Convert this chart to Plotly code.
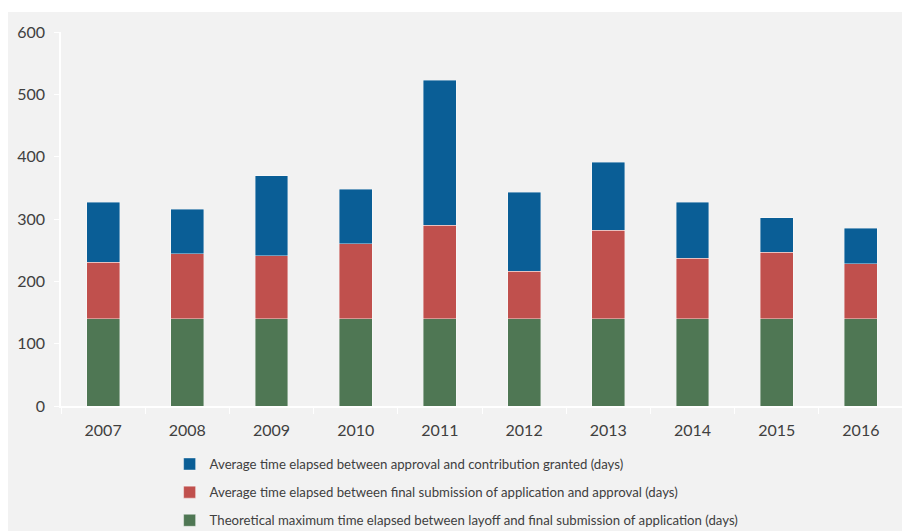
import plotly.graph_objects as go

years = ["2007", "2008", "2009", "2010", "2011", "2012", "2013", "2014", "2015", "2016"]
theoretical_max = [140, 140, 140, 140, 140, 140, 140, 140, 140, 140]
submission_to_approval = [91, 104, 101, 120, 150, 76, 142, 97, 107, 88]
approval_to_granted = [96, 72, 128, 88, 233, 127, 109, 90, 55, 57]

names = [
    "Theoretical maximum time elapsed between layoff and final submission of application (days)",
    "Average time elapsed between final submission of application and approval (days)",
    "Average time elapsed between approval and contribution granted (days)",
]
colors = ["#4F7754", "#C0504D", "#0A5E96"]
series = [theoretical_max, submission_to_approval, approval_to_granted]
ranks = [3, 2, 1]

FONT = "Lato, 'Open Sans', sans-serif"

fig = go.Figure()
for i, (nm, col, vals, rk) in enumerate(zip(names, colors, series, ranks)):
    fig.add_trace(go.Bar(
        x=years, y=vals, name=nm, legendgroup=f"g{i}", legendrank=rk,
        marker=dict(color=col, line=dict(color="rgba(255,255,255,0.5)", width=0.8)),
    ))

# page body has an 8px margin, so the figure is sized/positioned to compensate
fig.update_layout(
    barmode="stack",
    bargap=0.61,
    width=902, height=523,
    margin=dict(l=53, r=7, t=24, b=125),
    paper_bgcolor="white",
    plot_bgcolor="#F2F2F2",
    font=dict(family=FONT, color="#404040"),
    showlegend=True,
    legend=dict(
        orientation="v", traceorder="grouped", tracegroupgap=8,
        x=0.129, xanchor="left", yref="container", y=0.157, yanchor="top",
        bgcolor="rgba(0,0,0,0)", font=dict(size=13.2, color="#404040"),
        itemwidth=30,
    ),
    shapes=[dict(
        type="rect", xref="paper", yref="paper", layer="below",
        x0=-0.07, x1=1.01, y0=-0.34, y1=1.0535,
        fillcolor="#F2F2F2", line=dict(width=0),
    )],
)
fig.update_xaxes(
    showline=True, linecolor="white", linewidth=1.5,
    ticks="outside", tickson="boundaries", tickcolor="white", ticklen=6,
    ticklabelstandoff=9,
    tickfont=dict(size=16, color="#404040"), showgrid=False,
)
fig.update_yaxes(
    range=[0, 600], dtick=100, showgrid=False,
    showline=True, linecolor="white", linewidth=1.5,
    ticks="outside", tickcolor="white", ticklen=5,
    ticklabelstandoff=6,
    tickfont=dict(size=16, color="#404040"), zeroline=False,
)
fig.write_html("out.html")
